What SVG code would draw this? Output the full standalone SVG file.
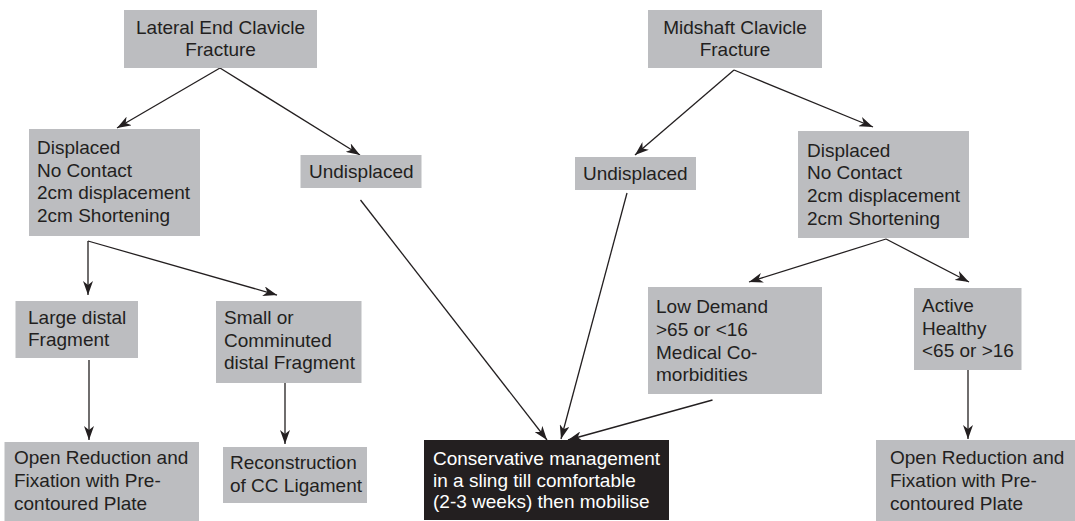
<svg xmlns="http://www.w3.org/2000/svg" width="1075" height="521" viewBox="0 0 1075 521">
<style>
.box{fill:#bcbdc0}
.dark{fill:#231f20}
text{font-family:"Liberation Sans",Arial,sans-serif;font-size:19px;fill:#231f20}
.w{fill:#ffffff}
.c{text-anchor:middle}
.ln{stroke:#231f20;stroke-width:1.3;fill:none;marker-end:url(#ah)}
</style>
<defs>
<marker id="ah" viewBox="0 0 14 10" refX="14" refY="5" markerWidth="14" markerHeight="10" markerUnits="userSpaceOnUse" orient="auto">
<path d="M0,0 L14,5 L0,10 L4,5 Z" fill="#231f20"/>
</marker>
</defs>
<rect width="1075" height="521" fill="#ffffff"/>
<g id="connectors">
<line class="ln" x1="220" y1="68" x2="117" y2="128"/>
<line class="ln" x1="220" y1="68" x2="360" y2="155"/>
<line class="ln" x1="734" y1="70" x2="635" y2="155"/>
<line class="ln" x1="734" y1="70" x2="873" y2="127"/>
<polyline class="ln" points="88,241 88,295"/>
<line class="ln" x1="88" y1="241" x2="277" y2="295"/>
<line class="ln" x1="89" y1="360" x2="89" y2="440"/>
<line class="ln" x1="285" y1="383" x2="285" y2="444"/>
<line class="ln" x1="886" y1="239" x2="749" y2="282"/>
<line class="ln" x1="886" y1="239" x2="969" y2="282"/>
<line class="ln" x1="968" y1="370" x2="968" y2="439"/>
<line class="ln" x1="360.5" y1="200" x2="547" y2="440"/>
<line class="ln" x1="627" y1="193" x2="561" y2="439"/>
<line class="ln" x1="712.5" y1="400" x2="568" y2="440"/>
</g>
<g id="lateral">
<rect class="box" x="124" y="10" width="193" height="58"/>
<text class="c" x="220.5" y="34">Lateral End Clavicle</text>
<text class="c" x="220.5" y="56">Fracture</text>
</g>
<g id="midshaft">
<rect class="box" x="648" y="10" width="174" height="58"/>
<text class="c" x="735" y="34">Midshaft Clavicle</text>
<text class="c" x="735" y="56">Fracture</text>
</g>
<g id="displaced-left">
<rect class="box" x="29" y="129" width="171" height="107"/>
<text x="37" y="154">Displaced</text>
<text x="37" y="177">No Contact</text>
<text x="37" y="199">2cm displacement</text>
<text x="37" y="222">2cm Shortening</text>
</g>
<g id="undisplaced-left">
<rect class="box" x="300.5" y="155" width="121" height="33"/>
<text x="309" y="178">Undisplaced</text>
</g>
<g id="undisplaced-right">
<rect class="box" x="575" y="157" width="121" height="33"/>
<text x="583" y="180">Undisplaced</text>
</g>
<g id="displaced-right">
<rect class="box" x="798" y="131" width="171" height="107"/>
<text x="807" y="157">Displaced</text>
<text x="807" y="179">No Contact</text>
<text x="807" y="202">2cm displacement</text>
<text x="807" y="225">2cm Shortening</text>
</g>
<g id="large-distal">
<rect class="box" x="15.5" y="301" width="122.5" height="57"/>
<text x="28" y="324">Large distal</text>
<text x="28" y="346">Fragment</text>
</g>
<g id="small-distal">
<rect class="box" x="216" y="301" width="145.5" height="82"/>
<text x="224" y="324">Small or</text>
<text x="224" y="347">Comminuted</text>
<text x="224" y="369">distal Fragment</text>
</g>
<g id="low-demand">
<rect class="box" x="648" y="287" width="174" height="107"/>
<text x="656" y="313">Low Demand</text>
<text x="656" y="336">&gt;65 or &lt;16</text>
<text x="656" y="359">Medical Co-</text>
<text x="656" y="381">morbidities</text>
</g>
<g id="active-healthy">
<rect class="box" x="914" y="288" width="107.5" height="82"/>
<text x="922" y="312">Active</text>
<text x="922" y="335">Healthy</text>
<text x="922" y="357">&lt;65 or &gt;16</text>
</g>
<g id="orif-left">
<rect class="box" x="4.5" y="442" width="194.5" height="79"/>
<text x="14" y="464">Open Reduction and</text>
<text x="14" y="487">Fixation with Pre-</text>
<text x="14" y="510">contoured Plate</text>
</g>
<g id="reconstruction">
<rect class="box" x="223" y="447" width="144" height="56"/>
<text x="230" y="469">Reconstruction</text>
<text x="230" y="492">of CC Ligament</text>
</g>
<g id="conservative">
<rect class="dark" x="424" y="440" width="245" height="80"/>
<text class="w" x="433" y="465">Conservative management</text>
<text class="w" x="433" y="487">in a sling till comfortable</text>
<text class="w" x="433" y="508">(2-3 weeks) then mobilise</text>
</g>
<g id="orif-right">
<rect class="box" x="876" y="440" width="199" height="81"/>
<text x="890" y="464">Open Reduction and</text>
<text x="890" y="487">Fixation with Pre-</text>
<text x="890" y="510">contoured Plate</text>
</g>
</svg>
